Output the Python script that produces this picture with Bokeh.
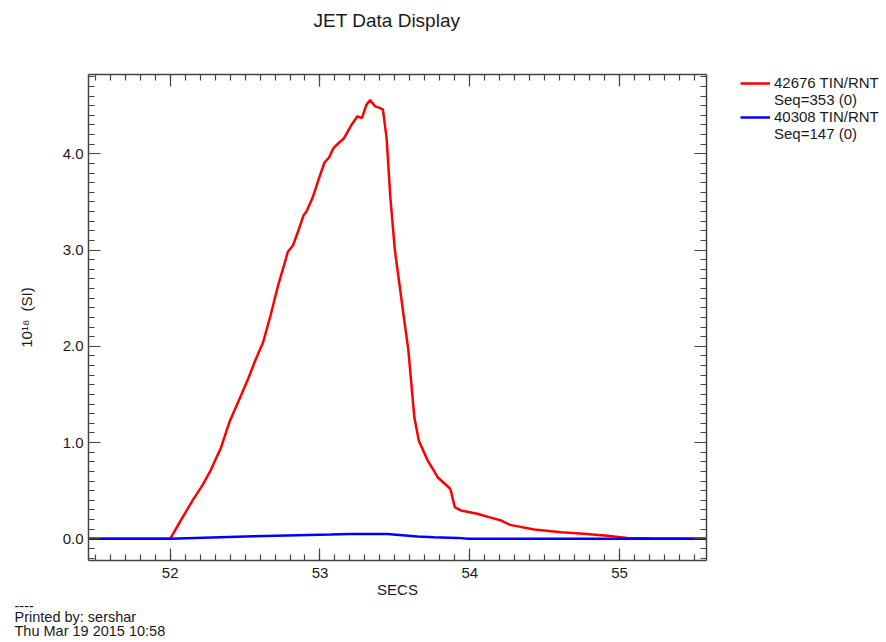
import numpy as np
from bokeh.plotting import figure
from bokeh.models import (Range1d, LinearAxis, SingleIntervalTicker, PrintfTickFormatter,
                          CustomJSTickFormatter, FixedTicker, Legend, LegendItem, Title)
from bokeh.layouts import row
from bokeh.embed import file_html
from bokeh.resources import INLINE

# ---- data ----
red_t = [51.455, 51.87, 52.0, 52.07, 52.15, 52.215, 52.27, 52.29, 52.34, 52.38, 52.40,
         52.47, 52.52, 52.57, 52.62, 52.67, 52.72, 52.76, 52.785, 52.82, 52.86, 52.89,
         52.91, 52.95, 52.99, 53.03, 53.06, 53.09, 53.13, 53.16, 53.21, 53.25, 53.28,
         53.31, 53.335, 53.37, 53.395, 53.42, 53.445, 53.47, 53.50, 53.53, 53.56, 53.59,
         53.61, 53.63, 53.66, 53.72, 53.76, 53.785, 53.87, 53.90, 53.94, 54.05, 54.14,
         54.21, 54.27, 54.43, 54.61, 54.76, 54.92, 55.05, 55.21, 55.58]
red_v = [0.0, 0.0, 0.0, 0.19, 0.40, 0.555, 0.71, 0.78, 0.95, 1.14, 1.23,
         1.48, 1.66, 1.86, 2.04, 2.32, 2.63, 2.84, 2.98, 3.05, 3.22, 3.36,
         3.40, 3.54, 3.73, 3.91, 3.96, 4.06, 4.12, 4.16, 4.30, 4.39, 4.37,
         4.51, 4.56, 4.49, 4.48, 4.46, 4.16, 3.54, 3.00, 2.65, 2.30, 1.96,
         1.61, 1.26, 1.02, 0.81, 0.71, 0.64, 0.52, 0.33, 0.295, 0.26, 0.22,
         0.19, 0.145, 0.097, 0.069, 0.052, 0.031, 0.01, 0.006, 0.0]

blue_t = [51.455, 52.0, 52.56, 53.07, 53.2, 53.45, 53.65, 53.76, 53.92, 53.99, 55.58]
blue_v = [0.0, 0.0, 0.027, 0.045, 0.05, 0.05, 0.024, 0.017, 0.01, 0.0, 0.0]

series_names = ["42676 TIN/RNT", "40308 TIN/RNT"]
series_seq = ["Seq=353 (0)", "Seq=147 (0)"]
series_colors = ["#ff0000", "#0000ff"]

title_text = "JET Data Display"
x_label = "SECS"
y_label = "10\u00b9\u2078\u00a0\u00a0(SI)"
footer_lines = ["----", "Printed by: sershar", "Thu Mar 19 2015 10:58"]

x_lim = (51.455, 55.58)
y_lim = (-0.225, 4.824)

FONT = "Liberation Sans"
AX = "#444444"
TXT = "#1a1a1a"

# ---------------- main plot ----------------
p = figure(width=740, height=642, output_backend="svg", toolbar_location=None,
           title=None, x_range=Range1d(*x_lim), y_range=Range1d(*y_lim),
           min_border_left=88, min_border_right=34, min_border_top=74,
           min_border_bottom=82)
p.xgrid.visible = False
p.ygrid.visible = False
p.outline_line_color = None
p.background_fill_color = "white"
p.border_fill_color = "white"


def style(ax):
    ax.ticker = SingleIntervalTicker(interval=1, num_minor_ticks=10)
    ax.major_tick_in = 12
    ax.major_tick_out = 0
    ax.minor_tick_in = 6
    ax.minor_tick_out = 0
    ax.axis_line_color = AX
    ax.axis_line_width = 1.5
    ax.major_tick_line_color = AX
    ax.minor_tick_line_color = AX
    ax.major_tick_line_width = 1.2
    ax.minor_tick_line_width = 1.2
    ax.major_label_text_font = FONT
    ax.major_label_text_font_size = "15px"
    ax.major_label_text_color = TXT
    ax.major_label_standoff = 5
    ax.axis_label_text_font = FONT
    ax.axis_label_text_font_size = "15px"
    ax.axis_label_text_font_style = "normal"
    ax.axis_label_text_color = TXT


style(p.xaxis[0])
style(p.yaxis[0])
p.xaxis[0].axis_label = x_label
p.xaxis[0].major_label_standoff = 7
p.xaxis[0].axis_label_standoff = 0
p.yaxis[0].axis_label = y_label
p.yaxis[0].axis_label_standoff = 25
p.yaxis[0].formatter = PrintfTickFormatter(format="%.1f")

top_ax = LinearAxis(formatter=CustomJSTickFormatter(code="return ''"))
right_ax = LinearAxis(formatter=CustomJSTickFormatter(code="return ''"))
style(top_ax)
style(right_ax)
top_ax.major_label_text_font_size = "1px"
top_ax.major_label_standoff = 0
right_ax.major_label_text_font_size = "1px"
right_ax.major_label_standoff = 0
p.add_layout(top_ax, "above")
p.add_layout(right_ax, "right")

# title: label of a tick-less top axis (trailing no-break spaces nudge it left)
title_ax = LinearAxis(ticker=FixedTicker(ticks=[]),
                      axis_line_color=None, major_tick_line_color=None,
                      minor_tick_line_color=None, major_tick_out=0, minor_tick_out=0,
                      major_tick_in=0, minor_tick_in=0,
                      axis_label=title_text + "\u00a0" * 4, axis_label_standoff=44,
                      axis_label_text_font=FONT, axis_label_text_font_size="19px",
                      axis_label_text_font_style="normal", axis_label_text_color=TXT)
p.add_layout(title_ax, "above")

p.line(red_t, red_v, line_color=series_colors[0], line_width=2.5)
p.line(blue_t, blue_v, line_color=series_colors[1], line_width=2.5)

for line in footer_lines:
    t = Title(text=line, align="left", offset=-74, standoff=-4, text_font=FONT,
              text_font_size="14.5px", text_font_style="normal", text_color=TXT)
    p.add_layout(t, "below")

# ---------------- legend panel (right of the plot) ----------------
lg = figure(width=146, height=642, output_backend="svg", toolbar_location=None,
            title=None, x_axis_location=None, y_axis_location=None,
            x_range=Range1d(0, 1), y_range=Range1d(0, 1), min_border=0)
lg.xgrid.visible = False
lg.ygrid.visible = False
lg.outline_line_color = None
lg.background_fill_color = "white"
lg.border_fill_color = "white"

# legend proxies: one undefined point each, so nothing is drawn in the panel itself
nan = np.array([np.nan])
proxy_red = lg.line(nan, nan, line_color=series_colors[0], line_width=2.5)
proxy_blue = lg.line(nan, nan, line_color=series_colors[1], line_width=2.5)
proxy_none = lg.line(nan, nan, line_alpha=0)

legend = Legend(items=[LegendItem(label=series_names[0], renderers=[proxy_red]),
                       LegendItem(label=series_seq[0], renderers=[proxy_none]),
                       LegendItem(label=series_names[1], renderers=[proxy_blue]),
                       LegendItem(label=series_seq[1], renderers=[proxy_none])],
                location="top_left", padding=2, margin=0, spacing=0,
                glyph_width=30, glyph_height=16, label_height=16, label_standoff=4,
                border_line_color=None, background_fill_alpha=0,
                label_text_font=FONT, label_text_font_size="15px",
                label_text_color=TXT)
lg.add_layout(legend, "center")

open("out.html", "w").write(file_html(row(p, lg), INLINE))
